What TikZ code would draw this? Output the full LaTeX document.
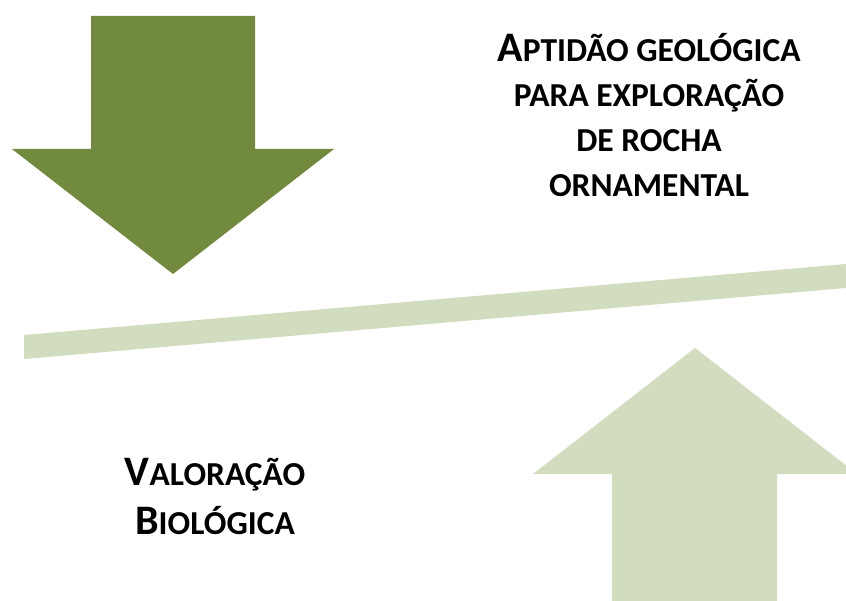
\documentclass[tikz,border=0pt]{standalone}
\usepackage{fontspec}
\setmainfont{Carlito}
\definecolor{olivedark}{HTML}{718A3E}
\definecolor{olivelight}{HTML}{D1DDBE}
% first letter large, the rest in small capitals
\newcommand\capword[2]{{\fontsize{42}{42}\selectfont #1}{\fontsize{33.5}{42}\selectfont #2}}
\newcommand\smallword[1]{{\fontsize{33.5}{42}\selectfont #1}}
\begin{document}
\begin{tikzpicture}[x=1pt, y=-1pt,
    caption/.style={font=\bfseries, align=center, inner sep=0pt, anchor=base}]
  \useasboundingbox (0,0) rectangle (846,601);
  \clip (0,0) rectangle (846,601);
  % beam
  \fill[olivelight] (24,335) -- (846,264) -- (846,288) -- (24,359) -- cycle;
  % falling arrow
  \fill[olivedark] (91,16) -- (255,16) -- (255,149) -- (334,149)
    -- (173,274) -- (12,149) -- (91,149) -- cycle;
  % rising arrow
  \fill[olivelight] (612,601) -- (777,601) -- (777,474) -- (857,474)
    -- (695,348) -- (533,474) -- (612,474) -- cycle;
  % labels
  \node[caption, font=\bfseries\fontsize{33.5}{45}\selectfont] (geo) at (649,197)
    {\capword{A}{PTIDÃO GEOLÓGICA}\\ \smallword{PARA EXPLORAÇÃO}\\
     \smallword{DE ROCHA}\\ \smallword{ORNAMENTAL}};
  \node[caption, font=\bfseries\fontsize{33.5}{49}\selectfont] (bio) at (215,534)
    {\capword{V}{ALORAÇÃO}\\ \capword{B}{IOLÓGICA}};
\end{tikzpicture}
\end{document}
